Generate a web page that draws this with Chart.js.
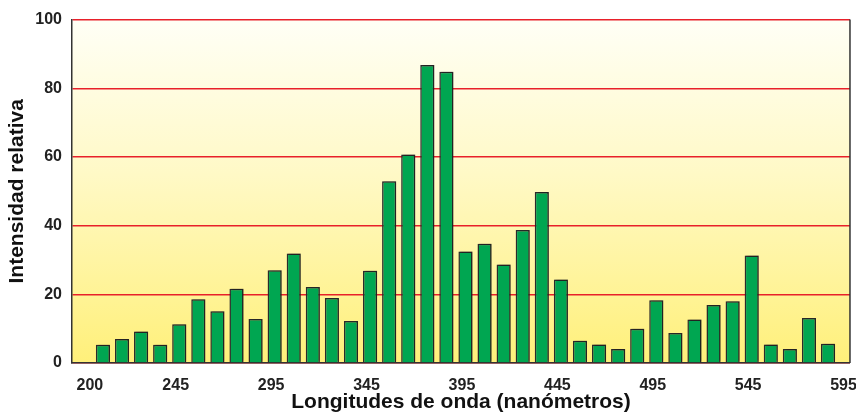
<!DOCTYPE html>
<html>
<head>
<meta charset="utf-8">
<script src="https://cdn.jsdelivr.net/npm/chart.js@4"></script>
<style>
  html, body { margin: 0; padding: 0; background: #fff; }
  #wrap { width: 856px; height: 415px; }
</style>
</head>
<body>
<div id="wrap"><canvas id="chart"></canvas></div>
<script>
// wavelength of each bar (nm) and its relative intensity
const wavelengths = [210, 220, 230, 240, 250, 260, 270, 280, 290, 300,
                     310, 320, 330, 340, 350, 360, 370, 380, 390, 400,
                     410, 420, 430, 440, 450, 460, 470, 480, 490, 500,
                     510, 520, 530, 540, 550, 560, 570, 580, 590];
const intensities = [5.3, 7.0, 9.2, 5.3, 11.3, 18.6, 15.1, 21.6, 12.8, 27.0,
                     31.9, 22.1, 18.9, 12.2, 26.9, 52.9, 60.7, 86.8, 84.8, 32.5,
                     34.7, 28.7, 38.7, 49.8, 24.3, 6.5, 5.4, 4.1, 10.0, 18.3,
                     8.7, 12.7, 16.9, 18.0, 31.3, 5.4, 4.1, 13.1, 5.6];
const xTickValues = [200, 245, 295, 345, 395, 445, 495, 545, 595];
const yTickValues = [0, 20, 40, 60, 80, 100];

const TICK_FONT = { family: 'Liberation Sans, Arial, sans-serif', size: 16, weight: 'bold' };
const TITLE_FONT = { family: 'Liberation Sans, Arial, sans-serif', size: 21, weight: 'bold' };

// yellow gradient behind the plot + right frame line + bar shadow
const plotDecor = {
    id: 'plotDecor',
    beforeDraw(chart) {
        const { ctx, chartArea: a } = chart;
        const g = ctx.createLinearGradient(0, a.top, 0, a.bottom);
        g.addColorStop(0, '#fffff6');
        g.addColorStop(0.45, '#fff9c6');
        g.addColorStop(1, '#fff07a');
        ctx.save();
        ctx.fillStyle = g;
        ctx.fillRect(a.left, a.top, a.right - a.left, a.bottom - a.top);
        ctx.restore();
    },
    beforeDatasetsDraw(chart) {
        const ctx = chart.ctx;
        ctx.save();
        ctx.shadowColor = 'rgba(0,0,0,0.3)';
        ctx.shadowOffsetX = 1.5;
        ctx.shadowOffsetY = -1;
        ctx.shadowBlur = 2;
    },
    afterDatasetsDraw(chart) {
        chart.ctx.restore();
    },
    afterDraw(chart) {
        const { ctx, chartArea: a } = chart;
        ctx.save();
        ctx.strokeStyle = '#333';
        ctx.lineWidth = 1.5;
        ctx.beginPath();
        ctx.moveTo(a.right, a.top);
        ctx.lineTo(a.right, a.bottom);
        ctx.stroke();
        ctx.restore();
    }
};

new Chart(document.getElementById('chart'), {
    type: 'bar',
    data: {
        datasets: [{
            data: wavelengths.map((w, i) => ({ x: w, y: intensities[i] })),
            backgroundColor: '#00a651',
            borderColor: '#2b2b2b',
            borderWidth: 1.5,
            barPercentage: 0.74,
            categoryPercentage: 1
        }]
    },
    options: {
        responsive: true,
        maintainAspectRatio: false,
        animation: false,
        layout: { padding: { top: 17, right: 5, left: 0, bottom: 0 } },
        plugins: { legend: { display: false }, tooltip: { enabled: false } },
        scales: {
            x: {
                type: 'linear',
                min: 193.8,
                max: 601.5,
                offset: false,
                grid: { display: false },
                border: { color: '#333', width: 1.5 },
                afterBuildTicks: (scale) => { scale.ticks = xTickValues.map(v => ({ value: v })); },
                ticks: { font: TICK_FONT, color: '#222', padding: 5, labelOffset: 6, maxRotation: 0, autoSkip: false },
                title: { display: true, text: 'Longitudes de onda (nanómetros)', font: TITLE_FONT, color: '#111', padding: { top: 0, bottom: 0 } },
                afterFit: (scale) => { scale.height = 52; }
            },
            y: {
                min: 0,
                max: 100,
                afterBuildTicks: (scale) => { scale.ticks = yTickValues.map(v => ({ value: v })); },
                grid: { color: '#e8202a', lineWidth: 1.5, drawTicks: false },
                border: { color: '#333', width: 1.5 },
                ticks: { font: TICK_FONT, color: '#222', padding: 10 },
                title: { display: true, text: 'Intensidad relativa', font: TITLE_FONT, color: '#111', padding: { top: 5, bottom: 0 } },
                afterFit: (scale) => { scale.width = 72; }
            }
        }
    },
    plugins: [plotDecor]
});
</script>
</body>
</html>
